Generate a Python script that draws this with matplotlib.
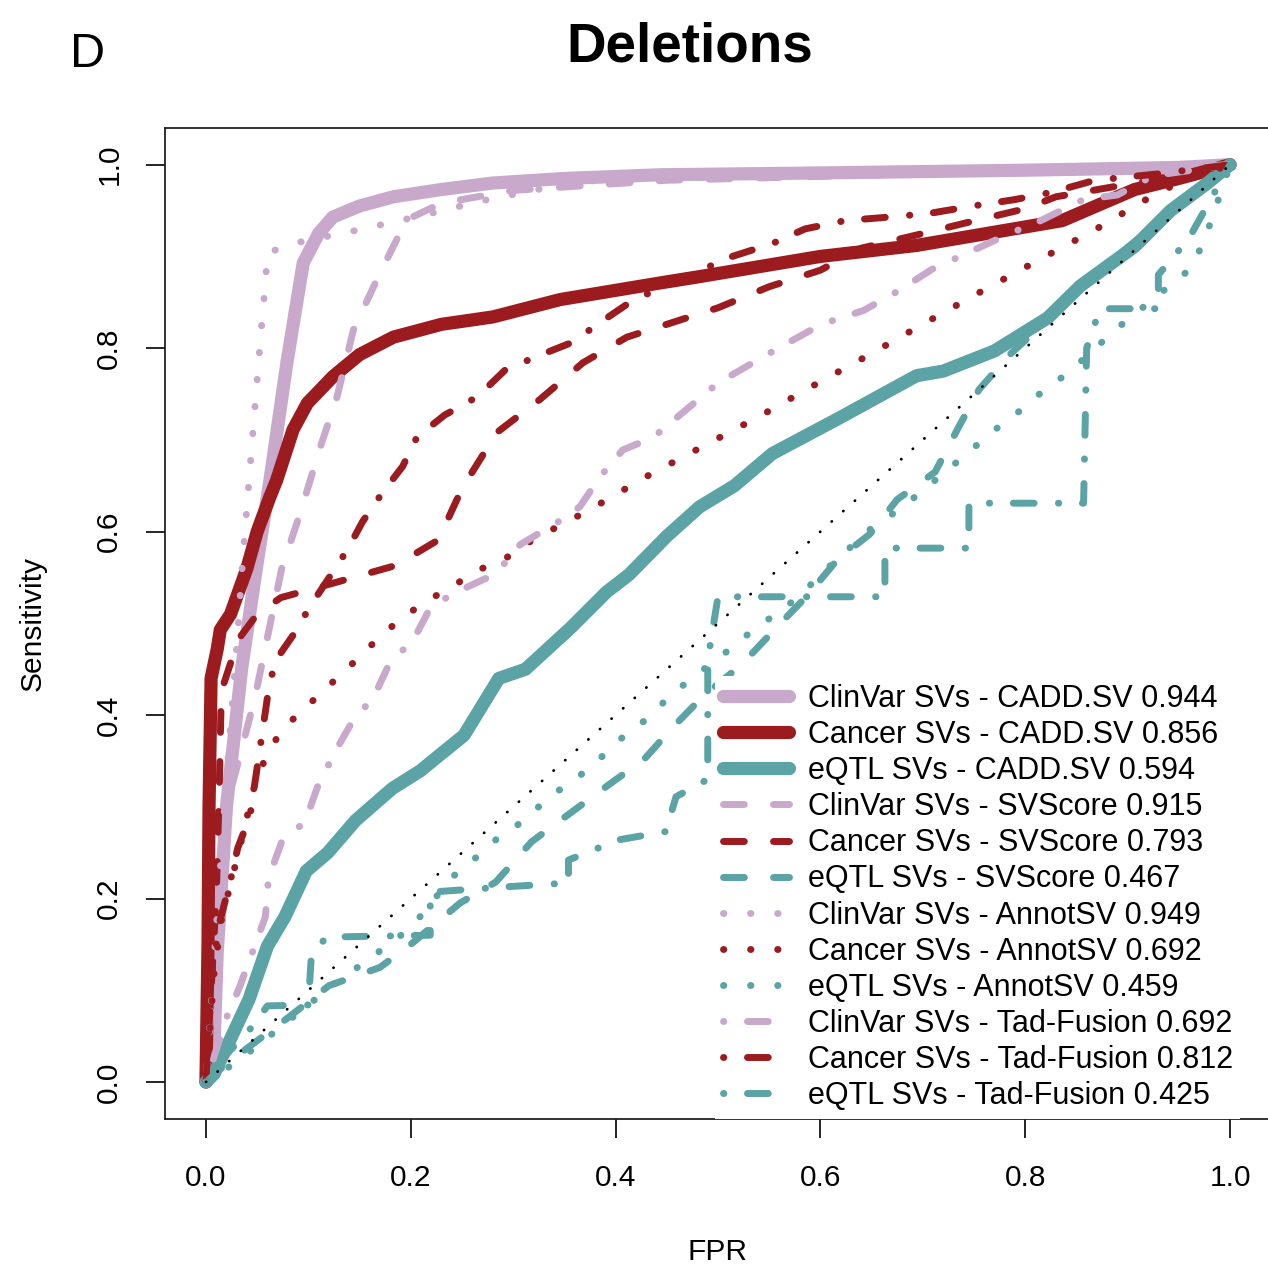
import matplotlib
matplotlib.use("Agg")
import matplotlib.pyplot as plt
from matplotlib.lines import Line2D

plt.rcParams['font.family'] = ['Liberation Sans', 'DejaVu Sans']

# ROC curves: FPR (x) and sensitivity (y)
clinvar_cadd_fpr = [0, 0.004, 0.008, 0.011, 0.02, 0.035, 0.05, 0.0625, 0.079, 0.095, 0.11, 0.124, 0.15, 0.183, 0.23, 0.28, 0.35, 0.443, 0.6, 0.8, 0.95, 1.0]
clinvar_cadd_tpr = [0, 0.02, 0.044, 0.141, 0.3, 0.452, 0.566, 0.656, 0.784, 0.893, 0.925, 0.943, 0.955, 0.965, 0.973, 0.98, 0.985, 0.989, 0.991, 0.994, 0.997, 1.0]

cancer_cadd_fpr = [0, 0.002, 0.003, 0.005, 0.011, 0.014, 0.024, 0.04, 0.05, 0.0625, 0.069, 0.085, 0.099, 0.124, 0.15, 0.183, 0.23, 0.28, 0.346, 0.443, 0.482, 0.6, 0.694, 0.836, 0.907, 0.95, 1.0]
cancer_cadd_tpr = [0, 0.15, 0.3, 0.44, 0.472, 0.493, 0.51, 0.56, 0.6, 0.638, 0.656, 0.711, 0.74, 0.769, 0.793, 0.812, 0.826, 0.834, 0.853, 0.871, 0.878, 0.9, 0.912, 0.939, 0.973, 0.985, 1.0]

eqtl_cadd_fpr = [0, 0.008, 0.024, 0.042, 0.06, 0.077, 0.098, 0.119, 0.146, 0.182, 0.209, 0.252, 0.286, 0.312, 0.356, 0.391, 0.413, 0.45, 0.482, 0.516, 0.553, 0.617, 0.694, 0.72, 0.77, 0.822, 0.854, 0.907, 0.942, 0.978, 1.0]
eqtl_cadd_tpr = [0, 0.009, 0.047, 0.09, 0.148, 0.18, 0.23, 0.25, 0.285, 0.32, 0.339, 0.378, 0.44, 0.45, 0.495, 0.534, 0.553, 0.595, 0.627, 0.65, 0.685, 0.723, 0.77, 0.775, 0.797, 0.833, 0.868, 0.911, 0.95, 0.98, 1.0]

clinvar_svscore_fpr = [0, 0.005, 0.01, 0.02, 0.033, 0.048, 0.061, 0.074, 0.092, 0.111, 0.128, 0.144, 0.17, 0.196, 0.23, 0.3, 0.45, 0.7, 0.9, 1.0]
clinvar_svscore_tpr = [0, 0.08, 0.17, 0.3, 0.355, 0.42, 0.49, 0.56, 0.62, 0.69, 0.747, 0.82, 0.882, 0.94, 0.958, 0.972, 0.983, 0.99, 0.995, 1.0]

cancer_svscore_fpr = [0, 0.005, 0.01, 0.013, 0.015, 0.025, 0.034, 0.05, 0.073, 0.128, 0.185, 0.227, 0.25, 0.284, 0.326, 0.368, 0.411, 0.45, 0.5, 0.55, 0.6, 0.64, 0.7, 0.74, 0.8, 0.83, 0.907, 1.0]
cancer_svscore_tpr = [0, 0.1, 0.2, 0.32, 0.426, 0.46, 0.486, 0.51, 0.528, 0.545, 0.563, 0.591, 0.647, 0.708, 0.744, 0.784, 0.812, 0.826, 0.844, 0.867, 0.885, 0.909, 0.925, 0.936, 0.952, 0.965, 0.98, 1.0]

eqtl_svscore_fpr = [0, 0.02, 0.05, 0.08, 0.12, 0.17, 0.2, 0.248, 0.283, 0.318, 0.358, 0.392, 0.428, 0.457, 0.485, 0.523, 0.561, 0.587, 0.617, 0.648, 0.675, 0.712, 0.735, 0.755, 0.785, 0.85, 0.9, 0.95, 1.0]
eqtl_svscore_tpr = [0, 0.02, 0.045, 0.07, 0.105, 0.125, 0.15, 0.195, 0.218, 0.262, 0.295, 0.323, 0.352, 0.388, 0.42, 0.455, 0.5, 0.53, 0.57, 0.597, 0.635, 0.665, 0.714, 0.755, 0.793, 0.86, 0.91, 0.955, 1.0]

clinvar_annot_fpr = [0, 0.006, 0.012, 0.02, 0.031, 0.035, 0.04, 0.045, 0.05, 0.055, 0.058, 0.06, 0.089, 0.149, 0.209, 0.271, 0.333, 0.424, 0.6, 0.8, 1.0]
clinvar_annot_tpr = [0, 0.1, 0.2, 0.33, 0.49, 0.556, 0.627, 0.697, 0.766, 0.834, 0.871, 0.904, 0.915, 0.929, 0.944, 0.961, 0.975, 0.99, 0.993, 0.996, 1.0]

cancer_annot_fpr = [0, 0.004, 0.008, 0.015, 0.025, 0.033, 0.05, 0.073, 0.096, 0.119, 0.142, 0.164, 0.187, 0.212, 0.24, 0.266, 0.294, 0.319, 0.375, 0.43, 0.482, 0.541, 0.596, 0.648, 0.703, 0.759, 0.813, 0.868, 0.921, 0.949, 1.0]
cancer_annot_tpr = [0, 0.06, 0.12, 0.176, 0.22, 0.256, 0.335, 0.383, 0.407, 0.431, 0.455, 0.479, 0.502, 0.522, 0.54, 0.558, 0.572, 0.591, 0.624, 0.66, 0.691, 0.726, 0.761, 0.793, 0.828, 0.863, 0.896, 0.929, 0.964, 0.98, 1.0]

eqtl_annot_fpr = [0, 0.026, 0.051, 0.075, 0.1, 0.124, 0.148, 0.175, 0.2, 0.22, 0.239, 0.263, 0.285, 0.312, 0.334, 0.362, 0.385, 0.408, 0.432, 0.454, 0.479, 0.505, 0.528, 0.561, 0.579, 0.6, 0.648, 0.674, 0.696, 0.743, 0.768, 0.794, 0.816, 0.843, 0.889, 0.962, 0.975, 0.985, 1.0]
eqtl_annot_tpr = [0, 0.019, 0.04, 0.062, 0.084, 0.106, 0.125, 0.147, 0.168, 0.195, 0.222, 0.244, 0.266, 0.286, 0.31, 0.331, 0.353, 0.377, 0.397, 0.422, 0.444, 0.466, 0.487, 0.514, 0.529, 0.553, 0.602, 0.622, 0.641, 0.685, 0.709, 0.731, 0.752, 0.774, 0.821, 0.887, 0.918, 0.95, 1.0]

clinvar_tad_fpr = [0, 0.01, 0.02, 0.033, 0.058, 0.061, 0.074, 0.097, 0.109, 0.126, 0.143, 0.164, 0.179, 0.203, 0.22, 0.252, 0.283, 0.307, 0.343, 0.365, 0.385, 0.407, 0.437, 0.5, 0.534, 0.567, 0.601, 0.642, 0.677, 0.709, 0.744, 0.783, 0.815, 0.857, 0.89, 0.925, 1.0]
clinvar_tad_tpr = [0, 0.035, 0.07, 0.104, 0.18, 0.222, 0.262, 0.284, 0.322, 0.36, 0.393, 0.42, 0.456, 0.483, 0.519, 0.538, 0.554, 0.586, 0.61, 0.627, 0.66, 0.689, 0.703, 0.762, 0.784, 0.805, 0.826, 0.841, 0.863, 0.886, 0.904, 0.924, 0.939, 0.962, 0.967, 0.988, 1.0]

cancer_tad_fpr = [0, 0.003, 0.007, 0.014, 0.024, 0.031, 0.043, 0.054, 0.06, 0.067, 0.085, 0.102, 0.138, 0.153, 0.172, 0.192, 0.206, 0.233, 0.265, 0.292, 0.323, 0.357, 0.385, 0.414, 0.44, 0.514, 0.553, 0.585, 0.624, 0.668, 0.707, 0.749, 0.79, 0.826, 0.868, 0.93, 1.0]
cancer_tad_tpr = [0, 0.09, 0.13, 0.177, 0.22, 0.255, 0.29, 0.373, 0.419, 0.458, 0.487, 0.519, 0.58, 0.611, 0.642, 0.671, 0.703, 0.727, 0.747, 0.776, 0.791, 0.806, 0.828, 0.85, 0.864, 0.9, 0.914, 0.93, 0.939, 0.943, 0.947, 0.955, 0.962, 0.97, 0.983, 0.99, 1.0]

eqtl_tad_fpr = [0, 0.02, 0.045, 0.06, 0.1, 0.103, 0.118, 0.219, 0.219, 0.296, 0.354, 0.354, 0.403, 0.449, 0.459, 0.49, 0.49, 0.5, 0.663, 0.663, 0.745, 0.745, 0.857, 0.86, 0.873, 0.93, 0.93, 0.96, 1.0]
eqtl_tad_tpr = [0, 0.03, 0.06, 0.083, 0.084, 0.14, 0.158, 0.16, 0.207, 0.213, 0.217, 0.242, 0.264, 0.273, 0.311, 0.33, 0.46, 0.529, 0.529, 0.582, 0.582, 0.631, 0.631, 0.8, 0.843, 0.843, 0.88, 0.92, 1.0]

diag_x = [0, 1]
diag_y = [0, 1]

groups = ["ClinVar SVs", "Cancer SVs", "eQTL SVs"]
tools = ["CADD.SV", "SVScore", "AnnotSV", "Tad-Fusion"]
auc = [0.944, 0.856, 0.594,
       0.915, 0.793, 0.467,
       0.949, 0.692, 0.459,
       0.692, 0.812, 0.425]

series = [
    (clinvar_cadd_fpr, clinvar_cadd_tpr), (cancer_cadd_fpr, cancer_cadd_tpr), (eqtl_cadd_fpr, eqtl_cadd_tpr),
    (clinvar_svscore_fpr, clinvar_svscore_tpr), (cancer_svscore_fpr, cancer_svscore_tpr), (eqtl_svscore_fpr, eqtl_svscore_tpr),
    (clinvar_annot_fpr, clinvar_annot_tpr), (cancer_annot_fpr, cancer_annot_tpr), (eqtl_annot_fpr, eqtl_annot_tpr),
    (clinvar_tad_fpr, clinvar_tad_tpr), (cancer_tad_fpr, cancer_tad_tpr), (eqtl_tad_fpr, eqtl_tad_tpr),
]

colors = ["#C8A9CB", "#9C1B1F", "#5BA3A5"]
styles = ["-", (0, (3, 4.2)), (0, (0.05, 3.85)), (0, (0.05, 3.4, 3, 3.5))]
THICK = 9.5
THIN = 5.0
FS = 21.5
LEG_FS = 22

fig = plt.figure(figsize=(12.68, 12.71), dpi=100)
ax = fig.add_axes([165 / 1268, 152.3 / 1271, 1106 / 1268, 990.7 / 1271])

handles = []
labels = []
for i, (fpr, tpr) in enumerate(series):
    t = i // 3
    g = i % 3
    lw = THICK if t == 0 else THIN
    ax.plot(fpr, tpr, color=colors[g], lw=lw, linestyle=styles[t],
            solid_capstyle='round', dash_capstyle='round', solid_joinstyle='round')
    handles.append(Line2D([], [], color=colors[g], lw=lw, linestyle=styles[t],
                          solid_capstyle='round', dash_capstyle='round'))
    labels.append(f"{groups[g]} - {tools[t]} {auc[i]:.3f}")

ax.plot(diag_x, diag_y, color="black", lw=2.0, linestyle=(0, (0.1, 5.5)), dash_capstyle='round')

ax.set_xlim(-0.04, 1.04)
ax.set_ylim(-0.04, 1.04)
ticks = [0, 0.2, 0.4, 0.6, 0.8, 1.0]
ax.set_xticks(ticks)
ax.set_yticks(ticks)
ax.set_xticklabels([f"{v:.1f}" for v in ticks])
ax.set_yticklabels([f"{v:.1f}" for v in ticks])
ax.tick_params(direction='out', length=14, width=1.2, labelsize=FS, colors='black')
ax.tick_params(axis='x', pad=18.5)
ax.tick_params(axis='y', pad=16)
for lbl in ax.get_yticklabels():
    lbl.set_rotation(90)
    lbl.set_va('center')
    lbl.set_ha('right')
for s in ax.spines.values():
    s.set_linewidth(1.3)
    s.set_color('#222222')

ax.set_xlabel("FPR", fontsize=FS, labelpad=33)
ax.set_ylabel("Sensitivity", fontsize=FS, labelpad=35)

leg = ax.legend(handles, labels, loc='lower left', bbox_to_anchor=((715 - 165) / 1106, 0.0), borderaxespad=0,
                frameon=True, fancybox=False, facecolor='white', edgecolor='none', framealpha=1,
                fontsize=LEG_FS, handlelength=2.16, handletextpad=0.62, labelspacing=0.2, borderpad=0.25)

fig.text(690 / 1268, 1 - 62 / 1271, "Deletions", fontsize=39.5, fontweight='bold', ha='center', va='baseline')
fig.text(70 / 1268, 1 - 67 / 1271, "D", fontsize=35, ha='left', va='baseline')

plt.savefig("out.png", dpi=100)
